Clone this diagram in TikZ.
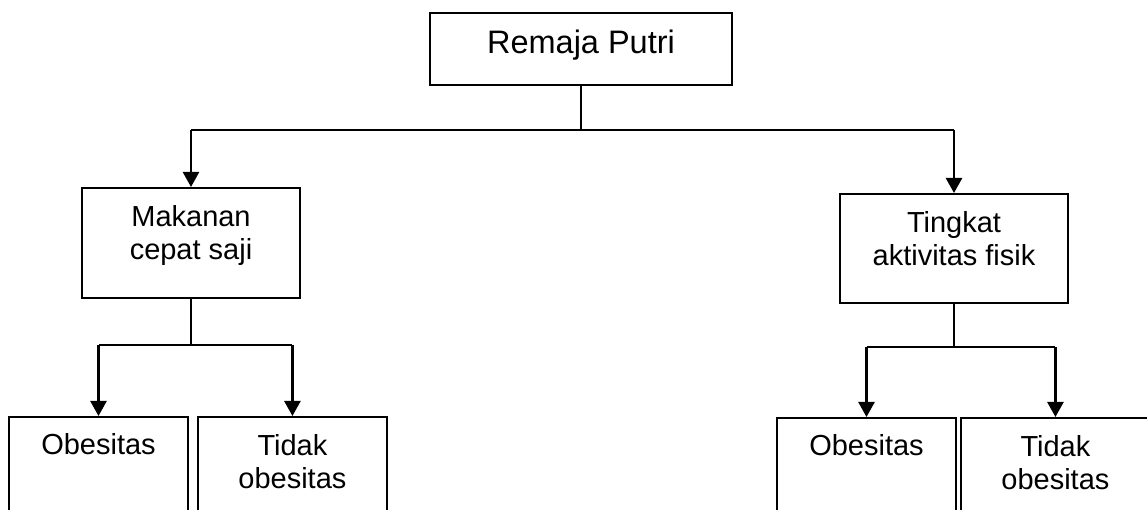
\documentclass[tikz,border=0pt]{standalone}
\usepackage{fontspec}
\setmainfont{Liberation Sans}
\usepackage{tikz}
\usetikzlibrary{positioning}
\usetikzlibrary{arrows.meta}

\tikzset{
    box/.style={draw, line width=1.1pt, rectangle, inner xsep=0pt, inner ysep=0pt, align=center, font=\fontsize{16.5}{19.3}\selectfont},
    leaf/.style={box, anchor=north, text height=0.76cm, text depth=2.5cm},
    link/.style={line width=0.7pt},
    arrow/.style={line width=1.4pt, -{Triangle[width=0.32cm, length=0.3cm]}}
}

\begin{document}
\begin{tikzpicture}
    \useasboundingbox (0,0) rectangle (22.94,-10.2);

    \node [box, anchor=north, minimum width=6.04cm, text height=0.82cm, text depth=0.62cm, font=\fontsize{18.5}{21}\selectfont] (root) at (11.62,-0.24) {Remaja Putri};

    \node [box, anchor=north, minimum width=4.36cm, text height=1.44cm, text depth=0.76cm] (makan) at (3.82,-3.74) {Makanan\\cepat saji};
    \node [box, anchor=north, minimum width=4.56cm, text height=1.44cm, text depth=0.74cm] (fisik) at (19.08,-3.86) {Tingkat\\aktivitas fisik};

    \node [leaf, minimum width=3.58cm] (ob1) at (1.97,-8.32) {Obesitas};
    \node [leaf, minimum width=3.78cm, text height=1.44cm, text depth=1.82cm, right=0.16cm of ob1] (tob1) {Tidak\\obesitas};
    \node [leaf, minimum width=3.58cm] (ob2) at (17.33,-8.34) {Obesitas};
    \node [leaf, minimum width=3.78cm, text height=1.44cm, text depth=1.82cm, right=0.06cm of ob2] (tob2) {Tidak\\obesitas};

    \coordinate [below=0.88cm of root] (split);
    \coordinate [below=0.92cm of makan] (splitA);
    \coordinate [below=0.86cm of fisik] (splitB);

    \draw [link] (root) -- (split);
    \draw [link] (split -| makan) -- (split -| fisik);
    \draw [arrow] (split -| makan) -- (makan);
    \draw [arrow] (split -| fisik) -- (fisik);

    \draw [link] (makan) -- (splitA);
    \draw [link] (splitA -| ob1) -- (splitA -| tob1);
    \draw [arrow] (splitA -| ob1) -- (ob1);
    \draw [arrow] (splitA -| tob1) -- (tob1);

    \draw [link] (fisik) -- (splitB);
    \draw [link] (splitB -| ob2) -- (splitB -| tob2);
    \draw [arrow] (splitB -| ob2) -- (ob2);
    \draw [arrow] (splitB -| tob2) -- (tob2);

\end{tikzpicture}
\end{document}
